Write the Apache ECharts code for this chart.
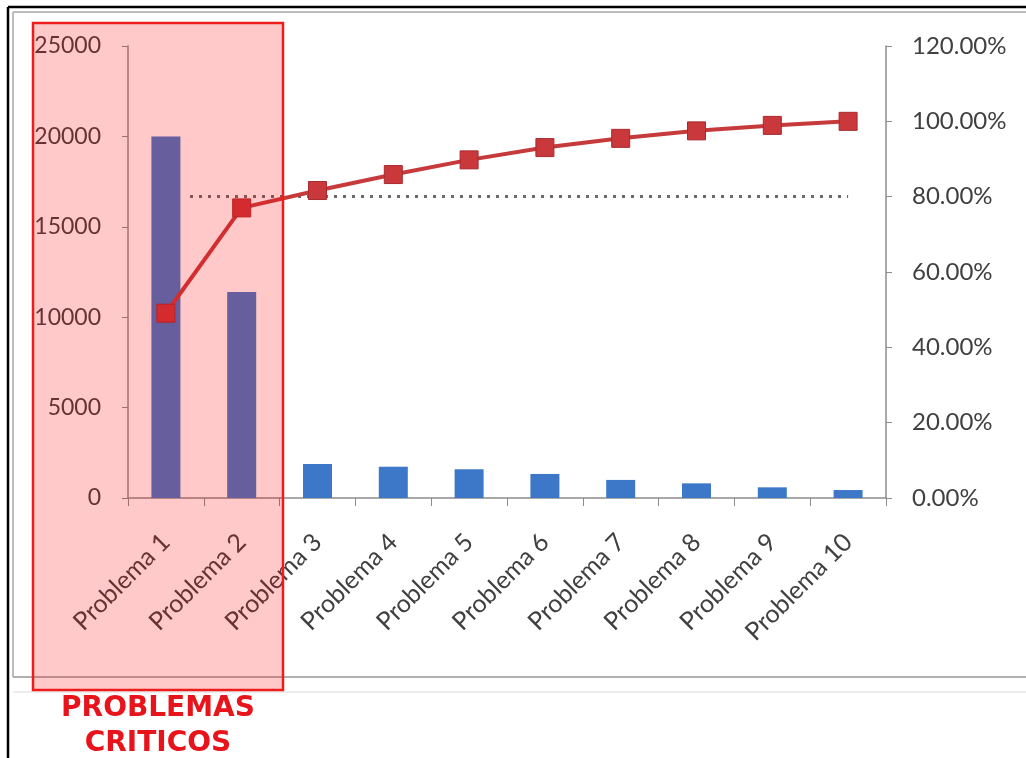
<!DOCTYPE html>
<html>
<head>
<meta charset="utf-8">
<script src="https://cdn.jsdelivr.net/npm/echarts@6/dist/echarts.min.js"></script>
<style>
  html, body { margin: 0; padding: 0; background: #ffffff; }
  #chart { width: 1026px; height: 758px; }
</style>
</head>
<body>
<div id="chart"></div>
<script>
// Pareto data: occurrences per problem and cumulative share
const categories = ['Problema 1', 'Problema 2', 'Problema 3', 'Problema 4', 'Problema 5',
                    'Problema 6', 'Problema 7', 'Problema 8', 'Problema 9', 'Problema 10'];
const occurrences = [20000, 11400, 1880, 1730, 1590, 1330, 1000, 810, 590, 440];
const cumulativePct = [49.06, 77.02, 81.63, 85.87, 89.77, 93.03, 95.48, 97.47, 98.92, 100.0];
const thresholdPct = 80;
const leftTicks = { min: 0, max: 25000, interval: 5000 };
const rightTicks = { min: 0, max: 120, interval: 20 };
const criticalLabel = ['PROBLEMAS', 'CRITICOS'];

const axisFont = 'Lato, "Open Sans", sans-serif';
const labelColor = '#404040';
const axisLineColor = '#8c8c8c';

const chart = echarts.init(document.getElementById('chart'), null, { renderer: 'canvas' });

chart.setOption({
  backgroundColor: '#ffffff',
  animation: false,
  grid: { left: 128, right: 140, top: 46, bottom: 260, containLabel: false },
  xAxis: {
    type: 'category',
    data: categories,
    boundaryGap: true,
    axisLine: { lineStyle: { color: axisLineColor, width: 1.5 } },
    axisTick: { show: true, alignWithLabel: false, length: 8, lineStyle: { color: axisLineColor } },
    axisLabel: {
      rotate: 45, margin: 40, color: labelColor,
      fontFamily: axisFont, fontSize: 25, interval: 0
    },
    splitLine: { show: false }
  },
  yAxis: [
    {
      type: 'value',
      min: leftTicks.min, max: leftTicks.max, interval: leftTicks.interval,
      axisLine: { show: true, lineStyle: { color: axisLineColor, width: 1.5 } },
      axisTick: { show: true, length: 6, lineStyle: { color: axisLineColor } },
      axisLabel: {
        color: labelColor, fontFamily: axisFont, fontSize: 23, margin: 27,
        formatter: v => String(v)
      },
      splitLine: { show: false }
    },
    {
      type: 'value',
      min: rightTicks.min, max: rightTicks.max, interval: rightTicks.interval,
      position: 'right',
      axisLine: { show: true, lineStyle: { color: axisLineColor, width: 1.5 } },
      axisTick: { show: true, length: 6, lineStyle: { color: axisLineColor } },
      axisLabel: {
        color: labelColor, fontFamily: axisFont, fontSize: 24, margin: 26,
        formatter: v => v.toFixed(2) + '%'
      },
      splitLine: { show: false }
    }
  ],
  series: [
    {
      name: 'Frecuencia',
      type: 'bar',
      data: occurrences,
      barWidth: 29,
      itemStyle: { color: '#3d78c8' },
      z: 2
    },
    {
      name: 'Acumulado',
      type: 'line',
      yAxisIndex: 1,
      data: cumulativePct,
      symbol: 'rect',
      symbolSize: 18,
      lineStyle: { color: '#c63a3c', width: 4 },
      itemStyle: { color: '#c9383b', borderColor: '#a82a2d', borderWidth: 1 },
      z: 4,
      markLine: {
        silent: true,
        symbol: 'none',
        label: { show: false },
        lineStyle: { color: '#6a6a6a', type: [3, 6], width: 3 },
        data: [[
          { xAxis: 'Problema 1', yAxis: thresholdPct, x: 190 },
          { xAxis: 'Problema 10', yAxis: thresholdPct }
        ]],
        z: 3
      }
    }
  ],
  graphic: [
    // outer black border
    { type: 'line', shape: { x1: 8, y1: 7, x2: 1026, y2: 7 }, style: { stroke: '#000000', lineWidth: 2.5 }, z: 10 },
    { type: 'line', shape: { x1: 8, y1: 7, x2: 8, y2: 758 }, style: { stroke: '#000000', lineWidth: 2.5 }, z: 10 },
    // chart area frame
    { type: 'line', shape: { x1: 13, y1: 12, x2: 1026, y2: 12 }, style: { stroke: '#bdbdbd', lineWidth: 2 }, z: 10 },
    { type: 'line', shape: { x1: 13, y1: 12, x2: 13, y2: 677 }, style: { stroke: '#bdbdbd', lineWidth: 2 }, z: 10 },
    { type: 'line', shape: { x1: 13, y1: 677, x2: 1026, y2: 677 }, style: { stroke: '#b0b0b0', lineWidth: 2 }, z: 10 },
    { type: 'line', shape: { x1: 13, y1: 692, x2: 1026, y2: 692 }, style: { stroke: '#e6e6e6', lineWidth: 1.5 }, z: 10 },
    // highlight box over the critical problems
    {
      type: 'rect',
      shape: { x: 33, y: 23, width: 250, height: 667 },
      style: { fill: 'rgba(255,0,0,0.21)', stroke: '#ee1c1c', lineWidth: 2.5 },
      z: 20
    },
    {
      type: 'text',
      style: {
        x: 158, y: 709, text: criticalLabel[0],
        fill: '#e8141c', font: 'bold 28px "DejaVu Sans", sans-serif',
        align: 'center', verticalAlign: 'middle'
      },
      z: 21
    },
    {
      type: 'text',
      style: {
        x: 158, y: 744, text: criticalLabel[1],
        fill: '#e8141c', font: 'bold 28px "DejaVu Sans", sans-serif',
        align: 'center', verticalAlign: 'middle'
      },
      z: 21
    }
  ]
});
</script>
</body>
</html>
